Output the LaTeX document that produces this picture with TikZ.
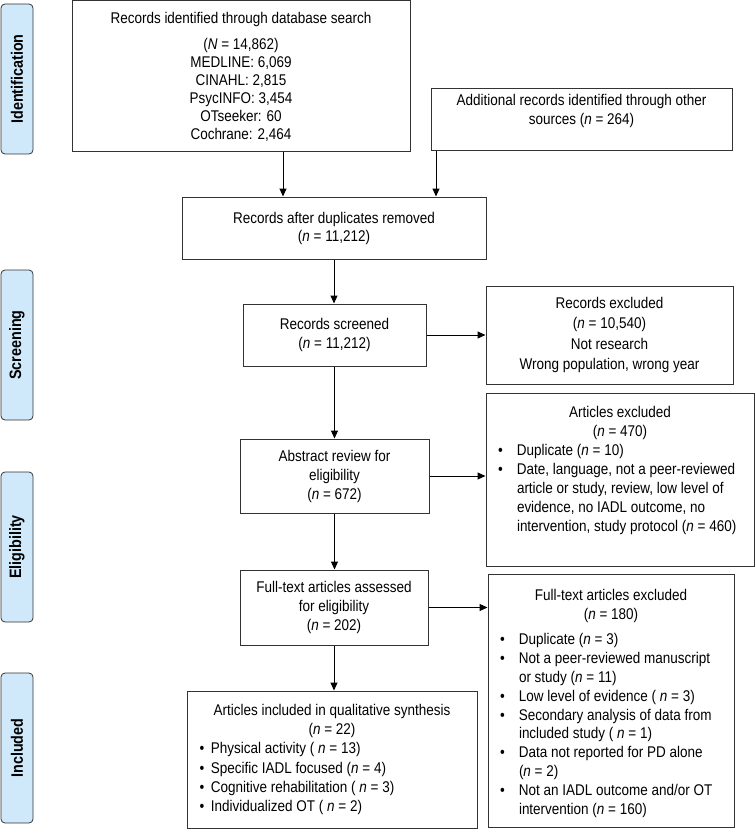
\documentclass[tikz,border=0pt]{standalone}
\usepackage{fontspec}
\setmainfont{Liberation Sans}[FakeStretch=0.87]
\usetikzlibrary{arrows.meta,calc}
\definecolor{tabfill}{HTML}{CFE9FB}
\definecolor{edgec}{HTML}{333333}
\newlength{\hind}
\newcommand{\bxc}[4]{\begin{minipage}[c][#2pt][c]{#1pt}\fontsize{15.5}{#3pt}\selectfont\centering #4\par\end{minipage}}
\newcommand{\bxt}[5]{\begin{minipage}[c][#2pt][t]{#1pt}\fontsize{15.5}{#3pt}\selectfont\vspace*{#4pt}\centering #5\par\end{minipage}}
\newcommand{\li}[1]{\par\hangindent=\hind\hangafter=1\noindent\makebox[\hind][l]{\textbullet}#1}
\newcommand{\nq}{\textit{n}~=~}
\begin{document}
\begin{tikzpicture}[x=1pt,y=-1pt,
  box/.style={draw=edgec,line width=1pt,rectangle,inner sep=0pt,text=black},
  tab/.style={draw=edgec,fill=tabfill,line width=0.8pt,rounded corners=4pt,rotate=90,
    minimum width=150pt,minimum height=32pt,inner sep=0pt,font=\bfseries\fontsize{16.5}{18}\selectfont},
  arr/.style={draw=black,line width=1pt,-{Triangle[length=8pt,width=7pt]}}]
\useasboundingbox (0,0) rectangle (755,829);

% phase tabs
\node[tab] (tid) at (17,79) {Identification};
\node[tab] (tscr) at (17,345) {Screening};
\node[tab] (telig) at (17,547) {Eligibility};
\node[tab] (tincl) at (17,748) {Included};

% boxes
\node[box] (db) at (241,76.5) {\bxc{338}{151}{18}{Records identified through database search\\[8pt]
  (\textit{N}~=~14,862)\\ MEDLINE: 6,069\\ CINAHL: 2,815\\ PsycINFO: 3,454\\ OTseeker: 60\\ Cochrane: 2,464}};
\node[box] (other) at (581.5,120) {\bxt{301}{62}{19}{5}{Additional records identified through other\\ sources (\nq 264)}};
\node[box] (dup) at (334,228) {\bxc{304}{62}{18}{Records after duplicates removed\\ (\nq 11,212)}};
\node[box] (scr) at (334.5,335) {\bxc{183}{62}{19}{Records screened\\ (\nq 11,212)}};
\node[box] (rexc) at (609.5,335) {\bxc{247}{98}{20.3}{Records excluded\\ (\nq 10,540)\\ Not research\\ Wrong population, wrong year}};
\node[box] (abs) at (334.5,476) {\bxc{189}{74}{19}{Abstract review for\\ eligibility\\ (\nq 672)}};
\node[box] (aexc) at (620,479.5) {\bxt{268}{173}{19}{13}{Articles excluded\\ (\nq 470)\par
  {\raggedright\leftskip=12pt\setlength{\hind}{19pt}%
  \li{Duplicate (\nq 10)}
  \li{Date, language, not a peer-reviewed\newline article or study, review, low level of\newline evidence, no IADL outcome, no\newline intervention, study protocol (\nq 460)}\par}}};
\node[box] (full) at (334,607.5) {\bxc{188}{75}{19}{Full-text articles assessed\\ for eligibility\\ (\nq 202)}};
\node[box] (fexc) at (611,700.5) {\bxt{246}{253}{18.8}{15}{Full-text articles excluded\\ (\nq 180)\par\vspace{7pt}
  {\raggedright\leftskip=12pt\setlength{\hind}{19pt}%
  \li{Duplicate (\nq 3)}
  \li{Not a peer-reviewed manuscript\newline or study (\nq 11)}
  \li{Low level of evidence ( \nq 3)}
  \li{Secondary analysis of data from\newline included study ( \nq 1)}
  \li{Data not reported for PD alone\newline (\nq 2)}
  \li{Not an IADL outcome and/or OT\newline intervention (\nq 160)}\par}}};
\node[box] (incl) at (332,759.5) {\bxc{290}{137}{19.2}{Articles included in qualitative synthesis\\ (\nq 22)\par
  {\raggedright\leftskip=12.5pt\setlength{\hind}{11.5pt}%
  \li{Physical activity ( \nq 13)}
  \li{Specific IADL focused (\nq 4)}
  \li{Cognitive rehabilitation ( \nq 3)}
  \li{Individualized OT ( \nq 2)}\par}}};

% connectors
\coordinate (a1) at ($(dup.north)+(-51,0)$);
\coordinate (a2) at ($(dup.north)+(102,0)$);
\draw[arr] (db.south -| a1) -- (a1);
\draw[arr] (other.south -| a2) -- (a2);
\draw[arr] (dup.south) -- (dup.south |- scr.north);
\draw[arr] (scr.east) -- (scr.east -| rexc.west);
\draw[arr] (scr.south) -- (scr.south |- abs.north);
\draw[arr] (abs.east) -- (abs.east -| aexc.west);
\draw[arr] (abs.south) -- (abs.south |- full.north);
\draw[arr] (full.east) -- (full.east -| fexc.west);
\draw[arr] (full.south) -- (full.south |- incl.north);
\end{tikzpicture}
\end{document}
